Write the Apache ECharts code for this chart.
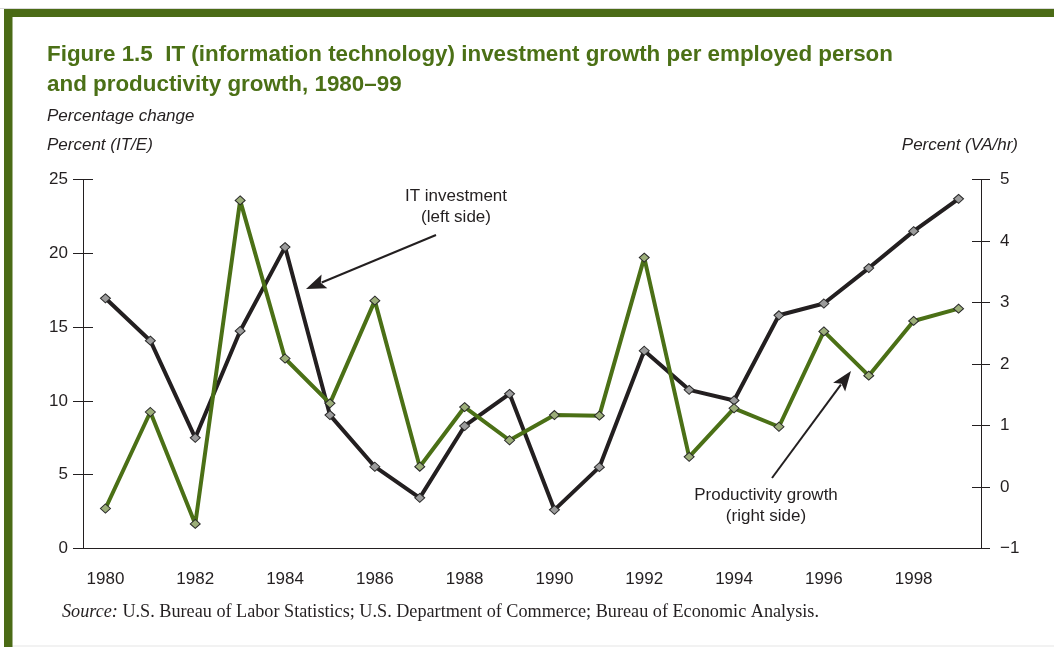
<!DOCTYPE html>
<html>
<head>
<meta charset="utf-8">
<script src="https://cdn.jsdelivr.net/npm/echarts@6/dist/echarts.min.js"></script>
<style>
html,body{margin:0;padding:0;background:#fff;}
#c{width:1054px;height:647px;}
</style>
</head>
<body>
<div id="c"></div>
<script>
// ---- data ----
const years = ['1980','1981','1982','1983','1984','1985','1986','1987','1988','1989',
               '1990','1991','1992','1993','1994','1995','1996','1997','1998','1999'];
const itInvestment = [16.95, 14.08, 7.5, 14.74, 20.42, 9.04, 5.54, 3.43, 8.3, 10.48,
                      2.62, 5.51, 13.4, 10.75, 10.03, 15.8, 16.6, 19.0, 21.5, 23.69];
const productivity = [-0.35, 1.22, -0.6, 4.66, 2.09, 1.36, 3.03, 0.33, 1.3, 0.76,
                      1.17, 1.16, 3.73, 0.49, 1.28, 0.98, 2.53, 1.81, 2.7, 2.9];
const leftTicks = [0, 5, 10, 15, 20, 25];
const rightTicks = [-1, 0, 1, 2, 3, 4, 5];

const GREEN = '#4b7016';
const BLACK = '#231f20';
const TXT = '#231f20';
const FONT = '"Liberation Sans", Arial, Helvetica, sans-serif';
const SERIF = '"Liberation Serif", "Times New Roman", serif';

const chart = echarts.init(document.getElementById('c'), null, {renderer: 'canvas'});

function arrow(x1, y1, x2, y2, headLen, headW) {
  const dx = x2 - x1, dy = y2 - y1;
  const L = Math.sqrt(dx*dx + dy*dy);
  const ux = dx / L, uy = dy / L;
  const bx = x2 - ux * headLen, by = y2 - uy * headLen;
  const px = -uy * headW / 2, py = ux * headW / 2;
  return [
    {type: 'line', shape: {x1: x1, y1: y1, x2: bx + ux*3, y2: by + uy*3},
     style: {stroke: BLACK, lineWidth: 2}, z: 50},
    {type: 'polygon', shape: {points: [[x2, y2], [bx + px, by + py], [bx + ux*headLen*0.2, by + uy*headLen*0.2], [bx - px, by - py]]},
     style: {fill: BLACK}, z: 50}
  ];
}

const baseAxisLabel = {color: TXT, fontFamily: FONT, fontSize: 17};

const option = {
  animation: false,
  backgroundColor: '#fff',
  grid: {left: 83, right: 73, top: 179.5, bottom: 98.5, containLabel: false},
  xAxis: [
    {
      type: 'category', data: years, boundaryGap: true, position: 'bottom',
      axisLine: {lineStyle: {color: BLACK, width: 1}},
      axisTick: {alignWithLabel: true, length: 6, interval: function (i) { return i % 2 === 1; },
                 lineStyle: {color: BLACK, width: 1}},
      axisLabel: Object.assign({}, baseAxisLabel, {margin: 22, interval: function (i) { return i % 2 === 0; }}),
      splitLine: {show: false}
    },
    {
      type: 'category', data: years, boundaryGap: true, position: 'bottom',
      axisLine: {show: false},
      axisTick: {alignWithLabel: true, inside: true, length: 6, interval: function (i) { return i % 2 === 1; },
                 lineStyle: {color: BLACK, width: 1}},
      axisLabel: {show: false},
      splitLine: {show: false}
    }
  ],
  yAxis: [
    {
      type: 'value', min: 0, max: 25, interval: 5, position: 'left',
      axisLine: {show: true, lineStyle: {color: BLACK, width: 1}},
      axisTick: {show: true, length: 10, lineStyle: {color: BLACK}},
      axisLabel: Object.assign({}, baseAxisLabel, {margin: 15,
        formatter: function (v) { return leftTicks.indexOf(v) >= 0 ? String(v) : ''; }}),
      splitLine: {show: false}
    },
    {
      type: 'value', min: -1, max: 5, interval: 1, position: 'right',
      axisLine: {show: true, lineStyle: {color: BLACK, width: 1}},
      axisTick: {show: true, length: 9, lineStyle: {color: BLACK}},
      axisLabel: Object.assign({}, baseAxisLabel, {margin: 19,
        formatter: function (v) { return rightTicks.indexOf(v) >= 0 ? (v < 0 ? '\u2212' + Math.abs(v) : String(v)) : ''; }}),
      splitLine: {show: false}
    },
    {
      type: 'value', min: 0, max: 25, interval: 5, position: 'left',
      axisLine: {show: false},
      axisTick: {show: true, inside: true, length: 10, lineStyle: {color: BLACK}},
      axisLabel: {show: false}, splitLine: {show: false}
    },
    {
      type: 'value', min: -1, max: 5, interval: 1, position: 'right',
      axisLine: {show: false},
      axisTick: {show: true, inside: true, length: 9, lineStyle: {color: BLACK}},
      axisLabel: {show: false}, splitLine: {show: false}
    }
  ],
  series: [
    {
      name: 'IT investment', type: 'line', xAxisIndex: 0, yAxisIndex: 0, data: itInvestment,
      symbol: 'diamond', symbolSize: [10, 9], showAllSymbol: true,
      lineStyle: {color: BLACK, width: 4},
      itemStyle: {color: '#9b9b9b', borderColor: '#2a2a2a', borderWidth: 1},
      z: 3
    },
    {
      name: 'Productivity growth', type: 'line', xAxisIndex: 0, yAxisIndex: 1, data: productivity,
      symbol: 'diamond', symbolSize: [10, 9], showAllSymbol: true,
      lineStyle: {color: GREEN, width: 4},
      itemStyle: {color: '#9cae79', borderColor: '#2a2a2a', borderWidth: 1},
      z: 4
    }
  ],
  graphic: [].concat(
    [
      // frame
      {type: 'rect', shape: {x: 0, y: 8, width: 1054, height: 1}, style: {fill: '#d9d9d9'}, z: 1},
      {type: 'rect', shape: {x: 4, y: 9, width: 1050, height: 8}, style: {fill: '#4b6b16'}, z: 2},
      {type: 'rect', shape: {x: 4, y: 9, width: 8.5, height: 638}, style: {fill: '#4b6b16'}, z: 2},
      {type: 'rect', shape: {x: 12, y: 645.5, width: 1042, height: 1}, style: {fill: '#e6e6e6'}, z: 1},
      // titles
      {type: 'text', x: 47, y: 55, style: {text: 'Figure 1.5  IT (information technology) investment growth per employed person',
        fill: GREEN, font: 'bold 22.4px ' + FONT, textVerticalAlign: 'middle'}},
      {type: 'text', x: 47, y: 85, style: {text: 'and productivity growth, 1980\u201399',
        fill: GREEN, font: 'bold 22.4px ' + FONT, textVerticalAlign: 'middle'}},
      {type: 'text', x: 47, y: 116, style: {text: 'Percentage change',
        fill: TXT, font: 'italic 17px ' + FONT, textVerticalAlign: 'middle'}},
      {type: 'text', x: 47, y: 145, style: {text: 'Percent (IT/E)',
        fill: TXT, font: 'italic 17px ' + FONT, textVerticalAlign: 'middle'}},
      {type: 'text', x: 1018, y: 145, style: {text: 'Percent (VA/hr)',
        fill: TXT, font: 'italic 17px ' + FONT, textAlign: 'right', textVerticalAlign: 'middle'}},
      // annotations
      {type: 'text', x: 456, y: 196, style: {text: 'IT investment', fill: TXT, font: '17px ' + FONT,
        textAlign: 'center', textVerticalAlign: 'middle'}, z: 50},
      {type: 'text', x: 456, y: 217, style: {text: '(left side)', fill: TXT, font: '17px ' + FONT,
        textAlign: 'center', textVerticalAlign: 'middle'}, z: 50},
      {type: 'text', x: 766, y: 495, style: {text: 'Productivity growth', fill: TXT, font: '17px ' + FONT,
        textAlign: 'center', textVerticalAlign: 'middle'}, z: 50},
      {type: 'text', x: 766, y: 516, style: {text: '(right side)', fill: TXT, font: '17px ' + FONT,
        textAlign: 'center', textVerticalAlign: 'middle'}, z: 50},
      // source
      {type: 'text', x: 62, y: 612, style: {
        text: '{i|Source:} U.S. Bureau of Labor Statistics; U.S. Department of Commerce; Bureau of Economic Analysis.',
        fill: TXT, font: '18.2px ' + SERIF, textVerticalAlign: 'middle',
        rich: {i: {fontStyle: 'italic', fontFamily: SERIF, fontSize: 18.2, fill: TXT}}}}
    ],
    arrow(436, 235, 306, 289, 20, 15),
    arrow(772, 478, 851, 371, 20, 15)
  )
};
chart.setOption(option);
</script>
</body>
</html>
